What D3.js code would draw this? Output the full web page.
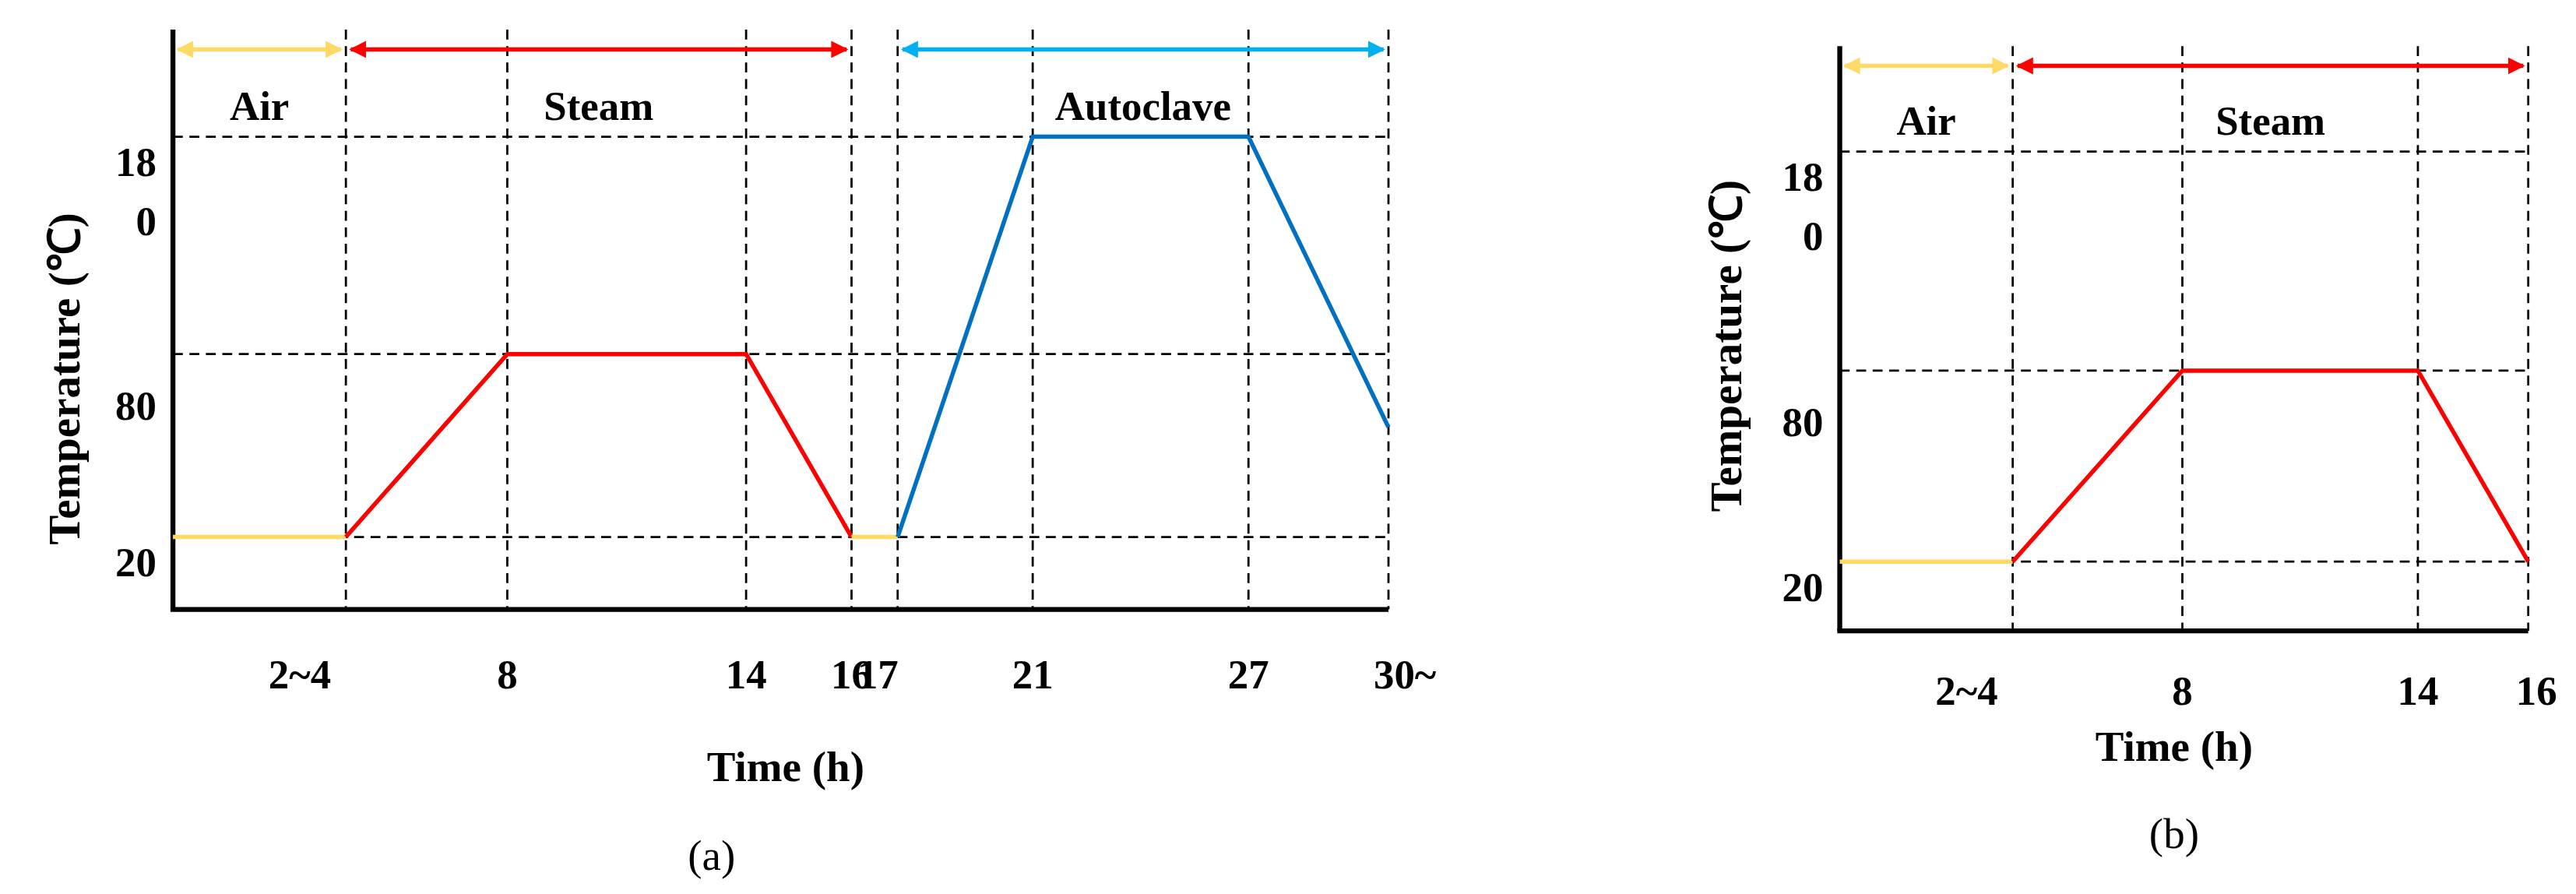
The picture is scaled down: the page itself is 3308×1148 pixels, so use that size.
<!DOCTYPE html>
<html><head><meta charset="utf-8">
<script src="https://cdn.jsdelivr.net/npm/d3@7"></script>
<style>body{margin:0;background:#fff}</style>
</head><body><div id="canvas"></div>
<script>
// panel (a)
const hoursA = [0, 3, 8, 14, 16, 17, 21, 27, 30];
const tickLabelsA = ["2~4", "8", "14", "16", "17", "21", "27", "30~"];
const airA = [[0, 20], [3, 20]];
const steamA = [[3, 20], [8, 80], [14, 80], [16, 20]];
const gapA = [[16, 20], [17, 20]];
const autoclaveA = [[17, 20], [21, 180], [27, 180], [30, 56]];
const phasesA = [["Air", 0, 3], ["Steam", 3, 16], ["Autoclave", 17, 30]];

// panel (b)
const hoursB = [0, 3, 8, 14, 16];
const tickLabelsB = ["2~4", "8", "14", "16"];
const airB = [[0, 20], [3, 20]];
const steamB = [[3, 20], [8, 80], [14, 80], [16, 20]];
const phasesB = [["Air", 0, 3], ["Steam", 3, 16]];

const tempLevels = [20, 80, 180];

const W = 1564, H = 1148 * 1564 / 3308;
const svg = d3.select("#canvas").append("svg")
    .attr("width", 3308).attr("height", 1148)
    .attr("viewBox", `0 0 ${W} ${H}`)
    .style("font-family", "'Liberation Serif', 'Times New Roman', serif");

const colors = { air: "#FFD966", steam: "#FF0000", auto: "#0070C0", autoArrow: "#00B0F0" };

const defs = svg.append("defs");
[["ya", colors.air], ["re", colors.steam], ["bl", colors.autoArrow]].forEach(([id, c]) => {
    defs.append("marker").attr("id", "m" + id).attr("viewBox", "0 0 10 10")
        .attr("refX", 9).attr("refY", 5).attr("markerWidth", 4).attr("markerHeight", 4)
        .attr("orient", "auto-start-reverse")
        .append("path").attr("d", "M0,0L10,5L0,10z").attr("fill", c);
});

function panel(o) {
    const g = svg.append("g");
    const x = d3.scaleLinear().domain(o.hours).range(o.xr);
    const y = d3.scaleLinear().domain([0, 20, 80, 180, 230]).range(o.yr);
    const x0 = x(0), xEnd = x(o.hours[o.hours.length - 1]), yb = y(0), yt = y(230);

    // dashed grid
    g.selectAll(".hd").data(tempLevels).enter().append("line")
        .attr("x1", x0).attr("x2", xEnd).attr("y1", d => y(d)).attr("y2", d => y(d))
        .attr("stroke", "#000").attr("stroke-width", 1.3).attr("stroke-dasharray", "6,4");
    g.selectAll(".vd").data(o.hours.slice(1)).enter().append("line")
        .attr("x1", d => x(d)).attr("x2", d => x(d)).attr("y1", yt).attr("y2", yb)
        .attr("stroke", "#000").attr("stroke-width", 1.3).attr("stroke-dasharray", "6,4");

    // axes
    g.append("line").attr("x1", x0).attr("x2", x0).attr("y1", yt).attr("y2", yb)
        .attr("stroke", "#000").attr("stroke-width", 3);
    g.append("line").attr("x1", x0 - 1.5).attr("x2", xEnd).attr("y1", yb).attr("y2", yb)
        .attr("stroke", "#000").attr("stroke-width", 3);

    const line = d3.line().x(d => x(d[0])).y(d => y(d[1]));
    o.series.forEach(([data, c]) => {
        g.append("path").attr("d", line(data)).attr("fill", "none")
            .attr("stroke", c).attr("stroke-width", 2.6);
    });

    // phase arrows and names
    const arrowC = [["ya", colors.air], ["re", colors.steam], ["bl", colors.autoArrow]];
    o.phases.forEach((p, i) => {
        g.append("line").attr("x1", x(p[1]) + 3).attr("x2", x(p[2]) - 3)
            .attr("y1", yt + 12).attr("y2", yt + 12)
            .attr("stroke", arrowC[i][1]).attr("stroke-width", 2.6)
            .attr("marker-start", `url(#m${arrowC[i][0]})`).attr("marker-end", `url(#m${arrowC[i][0]})`);
        g.append("text").attr("x", (x(p[1]) + x(p[2])) / 2).attr("y", y(180) - 10)
            .attr("text-anchor", "middle").attr("font-size", 25).attr("font-weight", "bold")
            .text(p[0]);
    });

    // y tick labels (180 split in two lines as in the figure)
    const yl = [["18", y(180) + 24], ["0", y(180) + 60], ["80", y(80) + 40], ["20", y(20) + 24]];
    g.selectAll(".yl").data(yl).enter().append("text")
        .attr("x", x0 - 10).attr("y", d => d[1]).attr("text-anchor", "end")
        .attr("font-size", 25).attr("font-weight", "bold").text(d => d[0]);

    // x tick labels
    g.selectAll(".xl").data(o.ticks).enter().append("text")
        .attr("x", (d, i) => x(o.hours[i + 1]) + (o.tickDx[i] || 0)).attr("y", o.tickY)
        .attr("text-anchor", "middle").attr("font-size", 25).attr("font-weight", "bold")
        .text(d => d);

    g.append("text").attr("x", o.titleX).attr("y", o.titleY).attr("text-anchor", "middle")
        .attr("font-size", 26).attr("font-weight", "bold").text("Time (h)");
    g.append("text").attr("transform", `translate(${o.ytX},${o.ytY}) rotate(-90)`)
        .attr("text-anchor", "middle").attr("font-size", 27).attr("font-weight", "bold")
        .text("Temperature (℃)");
    g.append("text").attr("x", o.titleX - (o.capDx || 0)).attr("y", o.capY).attr("text-anchor", "middle")
        .attr("font-size", 26).text(o.cap);
}

panel({
    hours: hoursA, xr: [105, 210, 308, 453, 517, 545, 627, 758, 843],
    yr: [370, 326, 215, 83, 18], ticks: tickLabelsA,
    tickDx: [-28, 0, 0, 0, -12, 0, 0, 10], tickY: 418,
    series: [[airA, colors.air], [steamA, colors.steam], [gapA, colors.air], [autoclaveA, colors.auto]],
    phases: phasesA, titleX: 477, titleY: 474, ytX: 48, ytY: 230, cap: "(a)", capY: 528, capDx: 45
});
panel({
    hours: hoursB, xr: [1117, 1222, 1325, 1468, 1535],
    yr: [383, 341, 225, 92, 28], ticks: tickLabelsB,
    tickDx: [-28, 0, 0, 5], tickY: 428,
    series: [[airB, colors.air], [steamB, colors.steam]],
    phases: phasesB, titleX: 1320, titleY: 462, ytX: 1057, ytY: 210, cap: "(b)", capY: 515, capDx: 0
});
</script>
</body></html>
